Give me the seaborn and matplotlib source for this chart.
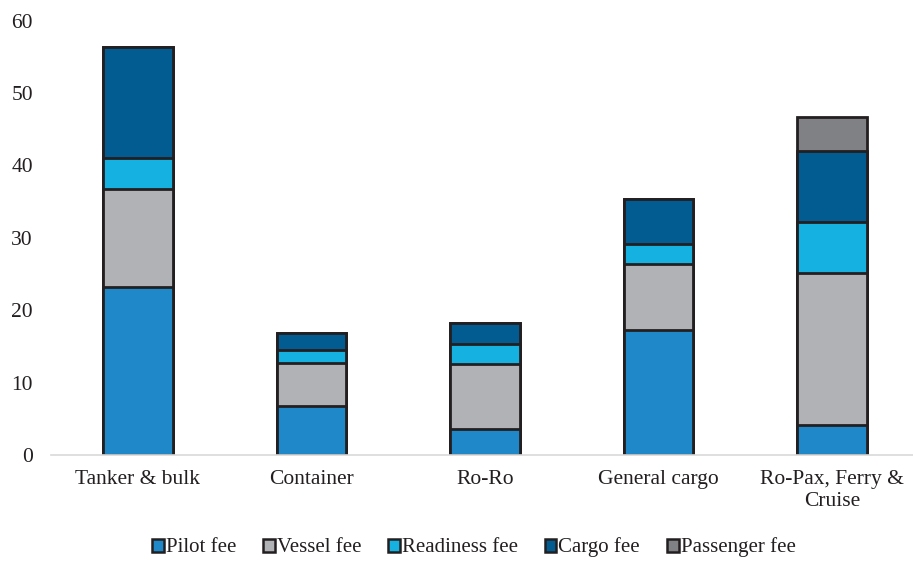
import numpy as np
import matplotlib
matplotlib.use("Agg")
import matplotlib.pyplot as plt
import seaborn as sns
from matplotlib.patches import Patch

categories = ["Tanker & bulk", "Container", "Ro-Ro", "General cargo", "Ro-Pax, Ferry &\nCruise"]
fee_names = ["Pilot fee", "Vessel fee", "Readiness fee", "Cargo fee", "Passenger fee"]

pilot_fee = [23.2, 6.8, 3.6, 17.3, 4.2]
vessel_fee = [13.5, 5.9, 8.9, 9.1, 20.9]
readiness_fee = [4.3, 1.8, 2.8, 2.7, 7.1]
cargo_fee = [15.4, 2.3, 2.9, 6.3, 9.8]
passenger_fee = [0.0, 0.0, 0.0, 0.0, 4.7]

colors = ["#1F88C9", "#B1B2B5", "#14B1E1", "#035C91", "#808184"]
yticks = [0, 10, 20, 30, 40, 50, 60]

sns.set_theme(style="white")
plt.rcParams["font.family"] = ["Liberation Serif", "DejaVu Serif"]

layers = [pilot_fee, vessel_fee, readiness_fee, cargo_fee, passenger_fee]
cum = np.cumsum(np.array(layers), axis=0)

fig = plt.figure(figsize=(9.13, 5.61), dpi=100)
ax = fig.add_axes([51 / 913, 106 / 561, 868 / 913, 434.5 / 561])

# draw cumulative totals from the top layer down so each stack shows its segments
for i in range(len(layers) - 1, -1, -1):
    sns.barplot(x=categories, y=cum[i], color=colors[i], saturation=1,
                width=0.4, edgecolor="#231F20", linewidth=2.0,
                errorbar=None, ax=ax)

ax.set_ylim(0, 60)
ax.set_xlim(-0.5, 4.5)
ax.set_yticks(yticks)
ax.set_yticklabels([str(t) for t in yticks])
ax.tick_params(axis="both", length=0, labelsize=15.5, colors="#231F20")
ax.tick_params(axis="y", pad=13)
ax.tick_params(axis="x", pad=11)
for s in ["top", "right", "left"]:
    ax.spines[s].set_visible(False)
ax.spines["bottom"].set_color("#D9D9D9")
ax.spines["bottom"].set_linewidth(1.2)
ax.set_xlabel("")
ax.set_ylabel("")

handles = [Patch(facecolor=c, edgecolor="#231F20", linewidth=1.8, label=n)
           for c, n in zip(colors, fee_names)]
fig.legend(handles=handles, loc="center", bbox_to_anchor=(0.519, 0.024), ncol=5,
           frameon=False, fontsize=15, handlelength=0.55, handleheight=0.6,
           handletextpad=0.1, columnspacing=1.3, labelcolor="#231F20",
           borderpad=0.1)

fig.savefig("out.png", dpi=100)
